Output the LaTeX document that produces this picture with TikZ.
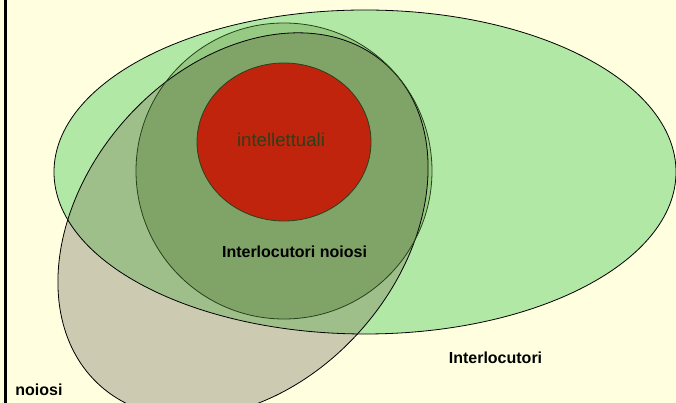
\documentclass[tikz,border=0pt]{standalone}
\usepackage{fontspec}
\setmainfont{Liberation Sans}
\definecolor{bgc}{RGB}{255,255,224}
\definecolor{gone}{RGB}{178,232,165}
\definecolor{none}{RGB}{204,203,178}
\definecolor{ntwo}{RGB}{158,190,138}
\definecolor{cone}{RGB}{150,202,130}
\definecolor{ctwo}{RGB}{128,164,104}
\definecolor{redc}{RGB}{192,36,12}
\definecolor{dgreen}{RGB}{40,66,28}
\definecolor{txtg}{RGB}{45,62,25}
\tikzset{
  outline/.style={draw=black, line width=0.8pt},
  lbl/.style={inner sep=0pt, font=\fontsize{16}{19}\selectfont\bfseries, text=black},
}
\begin{document}
\begin{tikzpicture}[x=1pt,y=1pt]
\useasboundingbox (0,0) rectangle (676,403);
\fill[bgc] (0,0) rectangle (676,403);
\fill[black] (4,0) rectangle (7,403);
\def\bigE{(365,231) ellipse [x radius=311pt, y radius=162pt]}
\def\noiE{[rotate around={48.6:(243,178)}] (243,178) ellipse [x radius=215pt, y radius=158pt]}
\def\cirE{(284,232) circle [radius=148pt]}
% big ellipse
\fill[gone] \bigE;
% noiosi ellipse
\fill[none, rotate around={48.6:(243,178)}] (243,178) ellipse [x radius=215pt, y radius=158pt];
\begin{scope}
  \clip \bigE;
  \fill[ntwo, rotate around={48.6:(243,178)}] (243,178) ellipse [x radius=215pt, y radius=158pt];
\end{scope}
% circle
\fill[cone] \cirE;
\begin{scope}
  \clip[rotate around={48.6:(243,178)}] (243,178) ellipse [x radius=215pt, y radius=158pt];
  \fill[ctwo] \cirE;
\end{scope}
% outlines
\draw[outline] \bigE;
\draw[outline, rotate around={48.6:(243,178)}] (243,178) ellipse [x radius=215pt, y radius=158pt];
\draw[draw=dgreen, line width=0.8pt] \cirE;
% red ellipse
\fill[redc] (284,261) ellipse [x radius=87pt, y radius=79pt];
\draw[draw=dgreen, line width=0.8pt] (284,261) ellipse [x radius=87pt, y radius=79pt];
% labels
\node[inner sep=0pt, font=\fontsize{18.6}{22}\selectfont, text=txtg] (intel) at (281,263) {intellettuali};
\node[lbl] (inoi) at (294.5,151) {Interlocutori noiosi};
\node[lbl] (inter) at (495.5,45) {Interlocutori};
\node[lbl] (noi) at (39,13) {noiosi};
\end{tikzpicture}
\end{document}
